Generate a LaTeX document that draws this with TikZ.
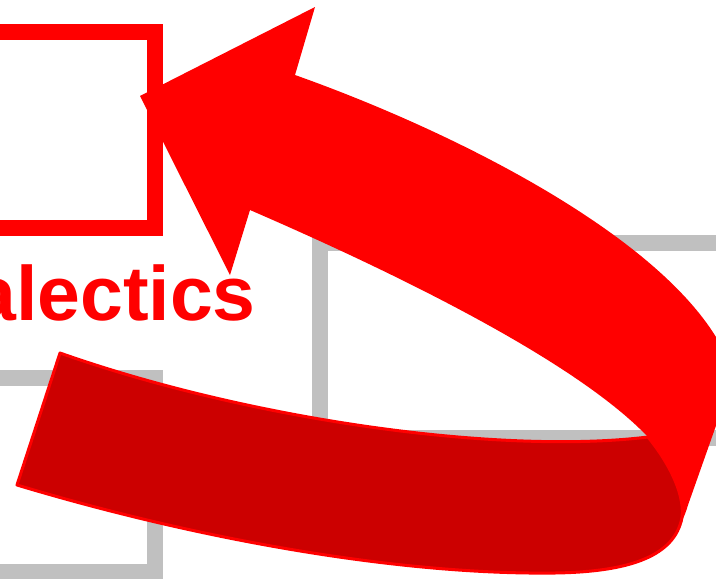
\documentclass[tikz,border=0pt]{standalone}
\usepackage{fontspec}
\setmainfont{Liberation Sans}
\definecolor{boxgray}{HTML}{C0C0C0}
\definecolor{darkribbon}{HTML}{CC0000}
\definecolor{brightred}{HTML}{FF0000}
\tikzset{
  graybox/.style={draw=boxgray,line width=16pt},
  redbox/.style={draw=brightred,line width=16pt},
  backribbon/.style={fill=darkribbon,draw=brightred,line width=3pt,line join=round},
  frontribbon/.style={fill=brightred},
  labeltext/.style={text=brightred,font=\bfseries\fontsize{77}{90}\selectfont,inner sep=0pt,anchor=base east}
}
\begin{document}
\begin{tikzpicture}[x=1pt,y=-1pt]
\useasboundingbox (0,0) rectangle (716,579);
\clip (0,0) rectangle (716,579);
% gray boxes
\draw[graybox] (-40,377.5) rectangle (155,571.5);
\draw[graybox] (320,242.5) rectangle (820,437.5);
% red box
\draw[redbox] (-40,32) rectangle (155,227.5);
% label
\node[labeltext] (lbl) at (256,320) {alectics};
% back (dark) part of the ribbon arrow
\draw[backribbon] (60,353) .. controls (250,420) and (500,455) .. (648,437)
  .. controls (675,470) and (688,505) .. (680,525)
  .. controls (668,560) and (620,572) .. (555,573)
  .. controls (400,575) and (200,540) .. (17,485) -- cycle;
% front (bright) part with arrow head
\fill[frontribbon] (140,96) -- (315,7) -- (295,75)
  .. controls (450,130) and (650,230) .. (716,337)
  .. controls (735,368) and (735,395) .. (718,420)
  -- (688,505) .. controls (686,512) and (684,517) .. (680,525)
  .. controls (688,505) and (675,470) .. (648,437)
  .. controls (570,355) and (370,262) .. (250,210)
  -- (230,275) -- cycle;
\end{tikzpicture}
\end{document}
